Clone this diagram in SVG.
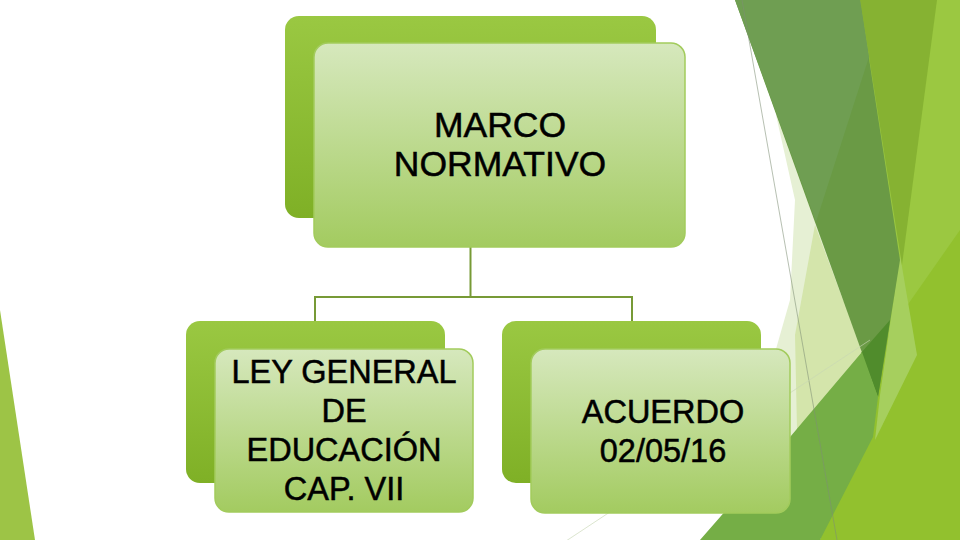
<svg xmlns="http://www.w3.org/2000/svg" width="960" height="540" viewBox="0 0 960 540">
<defs>
<linearGradient id="gBack" x1="0" y1="0" x2="0" y2="1">
<stop offset="0" stop-color="#9ac842"/>
<stop offset="1" stop-color="#7fb026"/>
</linearGradient>
<linearGradient id="gFront" x1="0" y1="0" x2="0" y2="1">
<stop offset="0" stop-color="#d6e8bd"/>
<stop offset="1" stop-color="#a3cb60"/>
</linearGradient>
<style>
.back{fill:url(#gBack);}
.front{fill:url(#gFront);stroke:#a2cb5c;stroke-width:1.5;}
.lbl{font-family:"Liberation Sans",Arial,sans-serif;fill:#000;stroke:#000;stroke-width:0.5;text-anchor:middle;}
.conn{stroke:#779a36;stroke-width:2;fill:none;}
</style>
</defs>
<rect width="960" height="540" fill="#ffffff"/>
<g id="decor">
<polygon points="0,310 35,540 0,540" fill="#9dc446"/>
<polygon points="776,115 795,200 790,300 770,370 790,437 880,330 840,150" fill="#e6f0d4"/>
<polygon points="815,225 795,335 797,430 875,340 843,300" fill="#d4e5ab"/>
<polygon points="860,0 960,0 960,540 820,540 878,397" fill="#9bc841"/>
<polygon points="960,230 890,330 820,540 960,540" fill="#92c12e"/>
<polygon points="900,255 917,355 875,440 880,395" fill="#a6cf5e"/>
<polygon points="860,0 937,0 902,265" fill="#86b232"/>
<polygon points="735,0 860,0 900,260 878,397" fill="#6a9a45"/>
<polygon points="735,0 860,0 869,57 816,222" fill="#6f9e52"/>
<polygon points="890,320 861,353 878,397" fill="#508c2c"/>
<polygon points="700,540 790,437 862,352 878,397 873,437 820,540" fill="#75ae46"/>
<line x1="742" y1="0" x2="837" y2="540" stroke="#7f8f76" stroke-width="0.8" opacity="0.7"/>
<line x1="870" y1="340" x2="560" y2="545" stroke="#c9d8b5" stroke-width="0.8" opacity="0.8"/>
</g>
<g id="connectors">
<polyline class="conn" points="470.5,247 470.5,297"/>
<polyline class="conn" points="315,321 315,297 632,297 632,321"/>
</g>
<g id="node-marco">
<rect class="back" x="285" y="16" width="371" height="202" rx="14"/>
<rect class="front" x="314" y="43" width="371" height="204" rx="14"/>
<text class="lbl" font-size="35.5" x="500" y="137">MARCO</text>
<text class="lbl" font-size="35.5" x="500" y="176">NORMATIVO</text>
</g>
<g id="node-ley">
<rect class="back" x="186" y="321" width="259" height="162" rx="14"/>
<rect class="front" x="215" y="349" width="258" height="163" rx="14"/>
<text class="lbl" font-size="32.5" x="344" y="383">LEY GENERAL</text>
<text class="lbl" font-size="32.5" x="344" y="422">DE</text>
<text class="lbl" font-size="32.5" x="344" y="461">EDUCACIÓN</text>
<text class="lbl" font-size="32.5" x="344" y="500">CAP. VII</text>
</g>
<g id="node-acuerdo">
<rect class="back" x="502" y="321" width="259" height="162" rx="14"/>
<rect class="front" x="531" y="349" width="259" height="164" rx="14"/>
<text class="lbl" font-size="32.5" x="663" y="423">ACUERDO</text>
<text class="lbl" font-size="32.5" x="663" y="462">02/05/16</text>
</g>
</svg>
